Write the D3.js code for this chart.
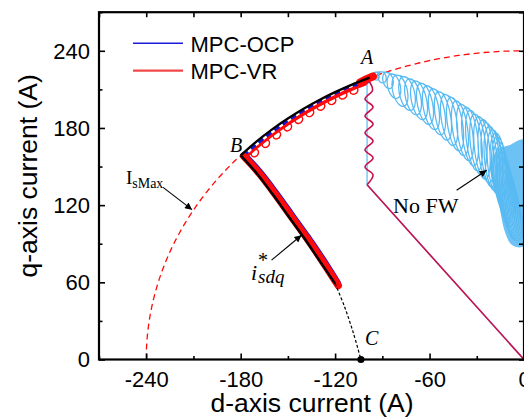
<!DOCTYPE html>
<html>
<head>
<meta charset="utf-8">
<script src="https://cdn.jsdelivr.net/npm/d3@7"></script>
<style>
  body { margin: 0; background: #fff; }
  svg { display: block; }
</style>
</head>
<body>
<svg id="chart" width="524" height="419"></svg>
<script>
// ---- axis ticks ----
const xTicks = [-240, -180, -120, -60, 0];
const xMinorTicks = [-270, -210, -150, -90, -30];
const yTicks = [0, 60, 120, 180, 240];
const yMinorTicks = [30, 90, 150, 210, 270];

// ---- current limit circle radius (A) ----
const iSMax = 240;

// ---- reference trajectory i*sdq: limit arc A -> B, MTPV B -> C ----
const refArcD = [-98, -110, -120, -130, -140, -150, -160, -170, -180];
const refArcQ = [219.1, 213.3, 207.8, 201.7, 194.9, 187.3, 178.9, 169.4, 158.7];
const refMtpvD = [-180, -170, -160, -150, -140, -130, -120];
const refMtpvQ = [158.7, 145, 129, 112, 95, 77, 59];
const refTailD = [-120, -114, -108.5, -103.6];
const refTailQ = [59, 41, 21, 0];
const pointC = [-103.6, 0];

// ---- start-up transient shared by both MPC schemes ----
const startD = [0, -99.7];
const startQ = [0, 135.8];
const rippleD = [-99.7, -95.9, -101.0, -95.9, -101.0, -95.9, -101.0, -95.9, -101.0, -95.9, -101.0, -96.2, -98.5];
const rippleQ = [135.8, 143.5, 149.7, 156.7, 162.9, 169.9, 176.1, 183.1, 189.3, 196.3, 202.5, 209.5, 216.5];

// ---- MPC-OCP ----
const ocpArcD = [-99, -110, -120, -130, -140, -150, -160, -170, -178];
const ocpArcQ = [216.4, 211.1, 205.5, 199.4, 192.5, 184.8, 176.2, 166.6, 158.0];
const ocpMtpvD = [-177.5, -167.5, -157.5, -147.5, -137.5, -127.5, -118.5];
const ocpMtpvQ = [158.5, 145, 129, 112, 95, 77, 59.5];

// ---- MPC-VR ----
const vrArcD = [-100, -110, -120, -130, -140, -150, -160, -170, -178];
const vrArcQ = [214.3, 209.4, 203.8, 197.6, 190.6, 182.8, 174.2, 164.4, 155.7];
// ripple loops along the arc: [d, q, half-length, half-width]
const vrLoops = [
  [-108, 209.0, 2.6, 2.6], [-115, 205.3, 2.6, 2.6], [-122, 201.0, 2.6, 2.6],
  [-129, 196.6, 2.6, 2.6], [-136, 191.7, 2.6, 2.6], [-143, 186.4, 2.6, 2.6],
  [-150, 180.6, 2.6, 2.6], [-157, 174.4, 2.6, 2.6], [-164, 167.8, 2.6, 2.6],
  [-171, 160.5, 2.6, 2.6]
];
const vrMtpvD = [-178, -168, -158, -148, -138, -128, -118];
const vrMtpvQ = [158, 144.5, 128.5, 111.5, 94.5, 76.5, 57.5];
const vrSteadyD = [-104, -100, -96];
const vrSteadyQ = [215.5, 218, 220];

// ---- No FW ----
const noFwRiseD = [0, -99.7, -99.7, -97];
const noFwRiseQ = [0, 135.8, 214, 218.5];
// oscillation loops: [d, q, half-length (A), half-width (A)]
const noFwLoops = [
  [-94.0, 220.3, 3.1, 2.0], [-90.2, 219.3, 4.4, 2.6], [-86.4, 217.0, 6.5, 3.2],
  [-82.6, 212.5, 9.8, 4.0], [-78.8, 209.0, 12.5, 4.6], [-74.3, 206.8, 13.5, 4.8],
  [-70.5, 204.2, 14.4, 4.8], [-66.7, 201.5, 15.4, 4.8], [-62.9, 198.8, 16.4, 4.8],
  [-59.1, 195.8, 17.4, 4.8], [-55.3, 192.6, 18.3, 4.8], [-51.5, 189.4, 19.2, 4.8],
  [-47.6, 186.2, 20.2, 4.8], [-43.8, 183.0, 21.2, 4.8], [-40.7, 179.8, 21.6, 4.8],
  [-37.5, 176.6, 22.2, 4.8], [-34.3, 173.4, 23.0, 4.8], [-31.8, 170.2, 23.8, 4.8],
  [-29.2, 167.2, 24.0, 4.8], [-26.7, 164.5, 24.6, 4.8], [-24.1, 162.0, 24.8, 4.8],
  [-22.2, 159.0, 25.2, 4.8], [-20.3, 156.4, 25.2, 4.8], [-18.4, 153.8, 25.2, 4.8],
  [-16.5, 151.0, 25.4, 4.8], [-15.6, 148.0, 25.4, 4.8], [-14.8, 144.5, 25.2, 4.8],
  [-14.0, 140.8, 25.0, 4.8], [-13.0, 137.0, 24.4, 4.8], [-12.0, 133.0, 23.8, 4.8],
  [-11.0, 129.0, 23.0, 4.8], [-10.0, 125.0, 22.0, 4.8], [-9.0, 121.0, 21.0, 4.8],
  [-8.0, 117.0, 19.0, 4.8], [-7.0, 112.5, 16.5, 4.8], [-6.0, 108.0, 14.0, 4.8],
  [-5.0, 104.0, 11.5, 4.8]
];
// densely covered region at the end of the No FW run
const noFwCoreD = [-17.2, -8.9, 0, 0, -7.6, -12.1, -15.2, -17.8, -18.4];
const noFwCoreQ = [162.9, 166.8, 170.7, 88.2, 89.0, 99.1, 116.2, 135.6, 151.2];

// ---- legend ----
const legendNames = ["MPC-OCP", "MPC-VR"];
const legendColors = ["#1a1ad8", "#f04848"];

// ---- annotations (data units) ----
const labelA = [-103.6, 229.6];
const labelB = [-186.8, 161.0];
const labelC = [-101.0, 11.3];
const labelIsMax = [-252.9, 136.2];
const arrowIsMax = [[-229.3, 133.8], [-210.9, 116.5]];
const labelIsdq = [-173.4, 61.7];
const arrowIsdq = [[-160.4, 77.2], [-141.4, 96.6]];
const labelNoFw = [-83.2, 113.7];
const arrowNoFw = [[-42.8, 131.6], [-23.7, 147.1]];

// ================= drawing =================
const svg = d3.select("#chart");
const SANS = "'Liberation Sans', Arial, sans-serif";
const SERIF = "'Liberation Serif', 'Times New Roman', serif";

const x = d3.scaleLinear().domain([-270, 0]).range([99, 524]);
const y = d3.scaleLinear().domain([0, 270]).range([359.5, 12.2]);

const zip = (ds, qs) => ds.map((d, i) => [d, qs[i]]);
const line = d3.line().x(p => x(p[0])).y(p => y(p[1]));
const smooth = d3.line().x(p => x(p[0])).y(p => y(p[1])).curve(d3.curveCatmullRom.alpha(0.5));
const closedSmooth = d3.line().x(p => x(p[0])).y(p => y(p[1])).curve(d3.curveCatmullRomClosed.alpha(0.5));
const pxLine = d3.line().curve(d3.curveCatmullRom.alpha(0.5));

const LIGHT_BLUE = "#58baf3";
const BLUE = "#1414d6";
const RED = "#ff0a0a";
const OVERLAP = "#c8104e";   // both MPC traces drawn on top of each other

// loops traced one after another; each loop's long axis leans toward the
// radius from the origin by the given fraction
function loopTrack(loops, steps, lean) {
  const ox = x(0), oy = y(0);
  const kx = x(1) - x(0), ky = y(0) - y(1);
  const pts = [];
  loops.forEach(([d, q, h, w]) => {
    const cx = x(d), cy = y(q);
    const phi = Math.atan2(cx - ox, oy - cy) * lean;
    const rx = Math.sin(phi), ry = -Math.cos(phi);
    const tx = -ry, ty = rx;
    const hp = h * ky, wp = w * kx;
    for (let i = 0; i <= steps; i++) {
      const a = 2 * Math.PI * i / steps;
      pts.push([cx + rx * hp * Math.cos(a) + tx * wp * Math.sin(a),
                cy + ry * hp * Math.cos(a) + ty * wp * Math.sin(a)]);
    }
  });
  return pts;
}

const plot = svg.append("g");

// current limit circle
const circlePts = d3.range(0, 90.5, 1).map(a => {
  const t = a * Math.PI / 180;
  return [-iSMax * Math.cos(t), iSMax * Math.sin(t)];
});
plot.append("path").attr("d", line(circlePts))
  .attr("fill", "none").attr("stroke", RED).attr("stroke-width", 1.3)
  .attr("stroke-dasharray", "6,4");

// No FW run
plot.append("path").attr("d", closedSmooth(zip(noFwCoreD, noFwCoreQ)))
  .attr("fill", LIGHT_BLUE).attr("fill-opacity", 0.88).attr("stroke", "none");
plot.append("path").attr("d", line(zip(noFwRiseD, noFwRiseQ)))
  .attr("fill", "none").attr("stroke", LIGHT_BLUE).attr("stroke-width", 1.2);
plot.append("path").attr("d", pxLine(loopTrack(noFwLoops, 20, 0.55)))
  .attr("fill", "none").attr("stroke", LIGHT_BLUE).attr("stroke-width", 1.25);

// start-up transient (both schemes overlap)
plot.append("path").attr("d", line(zip(startD, startQ)))
  .attr("fill", "none").attr("stroke", OVERLAP).attr("stroke-width", 1.6);
plot.append("path").attr("d", smooth(zip(rippleD, rippleQ)))
  .attr("fill", "none").attr("stroke", OVERLAP).attr("stroke-width", 1.6);

// MPC-OCP
plot.append("path").attr("d", smooth(zip(ocpArcD, ocpArcQ)))
  .attr("fill", "none").attr("stroke", BLUE).attr("stroke-width", 4)
  .attr("stroke-dasharray", "6,4");
plot.append("path").attr("d", smooth(zip(ocpMtpvD, ocpMtpvQ)))
  .attr("fill", "none").attr("stroke", BLUE).attr("stroke-width", 7)
  .attr("stroke-linecap", "round");

// MPC-VR
plot.append("path").attr("d", smooth(zip(vrArcD, vrArcQ)))
  .attr("fill", "none").attr("stroke", RED).attr("stroke-width", 2.5);
plot.append("path").attr("d", pxLine(loopTrack(vrLoops, 16, 1)))
  .attr("fill", "none").attr("stroke", RED).attr("stroke-width", 1.4);
plot.append("path").attr("d", smooth(zip(vrMtpvD, vrMtpvQ)))
  .attr("fill", "none").attr("stroke", RED).attr("stroke-width", 7.5)
  .attr("stroke-linecap", "round");
plot.append("path").attr("d", line(zip(vrSteadyD, vrSteadyQ)))
  .attr("fill", "none").attr("stroke", RED).attr("stroke-width", 8)
  .attr("stroke-linecap", "round");

// reference i*sdq
plot.append("path").attr("d", smooth(zip(refArcD, refArcQ)))
  .attr("fill", "none").attr("stroke", "#000").attr("stroke-width", 2.4);
plot.append("path").attr("d", smooth(zip(refMtpvD, refMtpvQ)))
  .attr("fill", "none").attr("stroke", "#000").attr("stroke-width", 2.4);
plot.append("path").attr("d", smooth(zip(refTailD, refTailQ)))
  .attr("fill", "none").attr("stroke", "#000").attr("stroke-width", 1.2)
  .attr("stroke-dasharray", "3,2");
plot.append("circle").attr("cx", x(pointC[0])).attr("cy", y(pointC[1])).attr("r", 3.6)
  .attr("fill", "#000");

// ---- axes ----
function styleAxis(g) {
  g.select(".domain").remove();
  g.selectAll(".tick line").attr("stroke", "#000").attr("stroke-width", 1.6);
  g.selectAll(".tick text").attr("font-family", SANS).attr("font-size", 22).attr("fill", "#000");
}
const ax = svg.append("g");
ax.append("g").attr("transform", `translate(0,${y(0)})`)
  .call(d3.axisBottom(x).tickValues(xMinorTicks).tickSize(-3.5).tickFormat(""))
  .call(styleAxis);
ax.append("g").attr("transform", `translate(0,${y(0)})`)
  .call(d3.axisBottom(x).tickValues(xTicks).tickSize(-6).tickPadding(12).tickFormat(d => String(d)))
  .call(styleAxis);
ax.append("g").attr("transform", `translate(0,${y(270)})`)
  .call(d3.axisTop(x).tickValues(xTicks.concat(xMinorTicks)).tickSize(-5).tickFormat(""))
  .call(styleAxis);
ax.append("g").attr("transform", `translate(${x(-270)},0)`)
  .call(d3.axisLeft(y).tickValues(yMinorTicks).tickSize(-3.5).tickFormat(""))
  .call(styleAxis);
const yAxisG = ax.append("g").attr("transform", `translate(${x(-270)},0)`)
  .call(d3.axisLeft(y).tickValues(yTicks).tickSize(-6).tickPadding(9).tickFormat(d => String(d)))
  .call(styleAxis);
yAxisG.selectAll(".tick text").attr("dy", "0.34em");
ax.append("g").attr("transform", `translate(${x(0)},0)`)
  .call(d3.axisRight(y).tickValues(yTicks.concat(yMinorTicks)).tickSize(-5).tickFormat(""))
  .call(styleAxis);

ax.append("rect")
  .attr("x", x(-270)).attr("y", y(270))
  .attr("width", x(0) - x(-270)).attr("height", y(0) - y(270))
  .attr("fill", "none").attr("stroke", "#000").attr("stroke-width", 2.2);

// axis titles
svg.append("text").attr("x", (x(-270) + x(0)) / 2 + 0.5).attr("y", 412)
  .attr("text-anchor", "middle").attr("font-family", SANS).attr("font-size", 26.5)
  .text("d-axis current (A)");
svg.append("text").attr("transform", `translate(37,${(y(0) + y(270)) / 2 - 10}) rotate(-90)`)
  .attr("text-anchor", "middle").attr("font-family", SANS).attr("font-size", 26.5)
  .text("q-axis current (A)");

// ---- legend ----
const lg = svg.append("g");
legendNames.forEach((name, i) => {
  const ly = 43.3 + i * 27.4;
  lg.append("line").attr("x1", 133).attr("x2", 183).attr("y1", ly).attr("y2", ly)
    .attr("stroke", legendColors[i]).attr("stroke-width", i === 0 ? 1.5 : 2.2);
  lg.append("text").attr("x", 190.5).attr("y", ly + 8.2)
    .attr("font-family", SANS).attr("font-size", 22).text(name);
});

// ---- annotations ----
const defs = svg.append("defs");
defs.append("marker").attr("id", "head").attr("viewBox", "0 0 10 10")
  .attr("refX", 10).attr("refY", 5).attr("markerWidth", 9).attr("markerHeight", 7)
  .attr("markerUnits", "userSpaceOnUse").attr("orient", "auto")
  .append("path").attr("d", "M0,0 L10,5 L0,10 Z").attr("fill", "#000");

const ann = svg.append("g");
function italic(txt, p, size) {
  return ann.append("text").attr("x", x(p[0])).attr("y", y(p[1]))
    .attr("font-family", SERIF).attr("font-style", "italic").attr("font-size", size).text(txt);
}
italic("A", labelA, 20);
italic("B", labelB, 20);
italic("C", labelC, 20);

const isMax = ann.append("text").attr("x", x(labelIsMax[0])).attr("y", y(labelIsMax[1]))
  .attr("font-family", SERIF).attr("font-size", 19);
isMax.append("tspan").text("I");
isMax.append("tspan").attr("font-size", 14).attr("dy", 4).text("sMax");

const ix = x(labelIsdq[0]), iy = y(labelIsdq[1]);
ann.append("text").attr("x", ix).attr("y", iy).attr("font-family", SERIF)
  .attr("font-style", "italic").attr("font-size", 22).text("i");
ann.append("text").attr("x", ix + 7).attr("y", iy - 13).attr("font-family", SERIF)
  .attr("font-size", 20).text("*");
ann.append("text").attr("x", ix + 7).attr("y", iy + 3).attr("font-family", SERIF)
  .attr("font-style", "italic").attr("font-size", 19).text("sdq");

ann.append("text").attr("x", x(labelNoFw[0])).attr("y", y(labelNoFw[1]))
  .attr("font-family", SERIF).attr("font-size", 22).text("No FW");

[arrowIsMax, arrowIsdq, arrowNoFw].forEach(a => {
  ann.append("line")
    .attr("x1", x(a[0][0])).attr("y1", y(a[0][1]))
    .attr("x2", x(a[1][0])).attr("y2", y(a[1][1]))
    .attr("stroke", "#000").attr("stroke-width", 1.1).attr("marker-end", "url(#head)");
});
</script>
</body>
</html>
